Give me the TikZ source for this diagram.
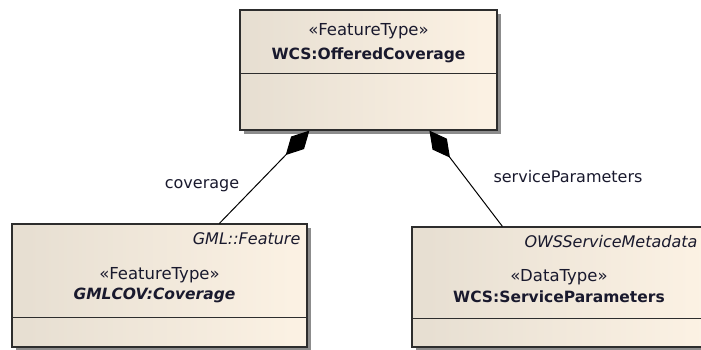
\documentclass[tikz,border=0pt]{standalone}
\usepackage{fontspec}
\setmainfont{DejaVu Sans}
\usetikzlibrary{arrows.meta, shadows}

\definecolor{boxleft}{RGB}{230,222,209}
\definecolor{boxright}{RGB}{252,242,228}
\definecolor{boxline}{RGB}{45,45,45}
\definecolor{txt}{RGB}{25,25,45}

\tikzset{
  umlbox/.style={draw=boxline, line width=1.2pt, rectangle, inner sep=0pt,
    shading=axis, left color=boxleft, right color=boxright, shading angle=90,
    drop shadow={shadow xshift=4pt, shadow yshift=-4pt, fill=black, opacity=0.45}},
  stereo/.style={font=\fontsize{16.5}{19}\selectfont, text=txt, anchor=base, inner sep=0pt},
  clsname/.style={font=\fontsize{15.5}{18}\selectfont\bfseries, text=txt, anchor=base, inner sep=0pt},
  parent/.style={font=\fontsize{16}{19}\selectfont\itshape, text=txt, anchor=base east, inner sep=0pt},
  rolename/.style={font=\fontsize{16}{19}\selectfont, text=txt, anchor=base, inner sep=0pt},
  composition/.style={draw=black, line width=1pt, -{Diamond[length=34pt, width=18pt]}}
}

\begin{document}
\begin{tikzpicture}[x=1pt, y=-1pt]
  \useasboundingbox (0,0) rectangle (701,349);
  \clip (0,0) rectangle (701,349);

  % Boxes
  \node[umlbox, minimum width=257pt, minimum height=120pt] (ofc) at (368.5,70) {};
  \node[umlbox, minimum width=295pt, minimum height=123pt] (cov) at (159.5,285.5) {};
  \node[umlbox, minimum width=294pt, minimum height=120pt] (svp) at (559,287) {};

  % Compartment lines
  \draw[boxline, line width=1.2pt] ([yshift=-64pt]ofc.north west) -- ([yshift=-64pt]ofc.north east);
  \draw[boxline, line width=1.2pt] ([yshift=-94pt]cov.north west) -- ([yshift=-94pt]cov.north east);
  \draw[boxline, line width=1.2pt] ([yshift=-92pt]svp.north west) -- ([yshift=-92pt]svp.north east);

  % Texts of the classes
  \node[stereo] (ofcst) at ([yshift=-26pt]ofc.north) {«FeatureType»};
  \node[clsname] (ofcnm) at ([yshift=-50pt]ofc.north) {WCS:OfferedCoverage};

  \node[parent] (covpa) at ([xshift=-7pt, yshift=-21pt]cov.north east) {GML::Feature};
  \node[stereo] (covst) at ([yshift=-56pt]cov.north) {«FeatureType»};
  \node[clsname, font=\fontsize{15.5}{18}\selectfont\bfseries\itshape] (covnm) at ([xshift=-5pt, yshift=-76pt]cov.north) {GMLCOV:Coverage};

  \node[parent] (svppa) at ([xshift=-9pt, yshift=-21pt]svp.north east) {OWSServiceMetadata};
  \node[stereo] (svpst) at ([yshift=-55pt]svp.north) {«DataType»};
  \node[clsname] (svpnm) at ([yshift=-76pt]svp.north) {WCS:ServiceParameters};

  % Compositions
  \draw[composition] ([xshift=208pt]cov.north west) -- ([xshift=70pt]ofc.south west);
  \draw[composition] ([xshift=91pt]svp.north west) -- ([xshift=190pt]ofc.south west);

  % Role names
  \node[rolename] (covrole) at (202,188) {coverage};
  \node[rolename] (svprole) at (568,182) {serviceParameters};
\end{tikzpicture}
\end{document}
